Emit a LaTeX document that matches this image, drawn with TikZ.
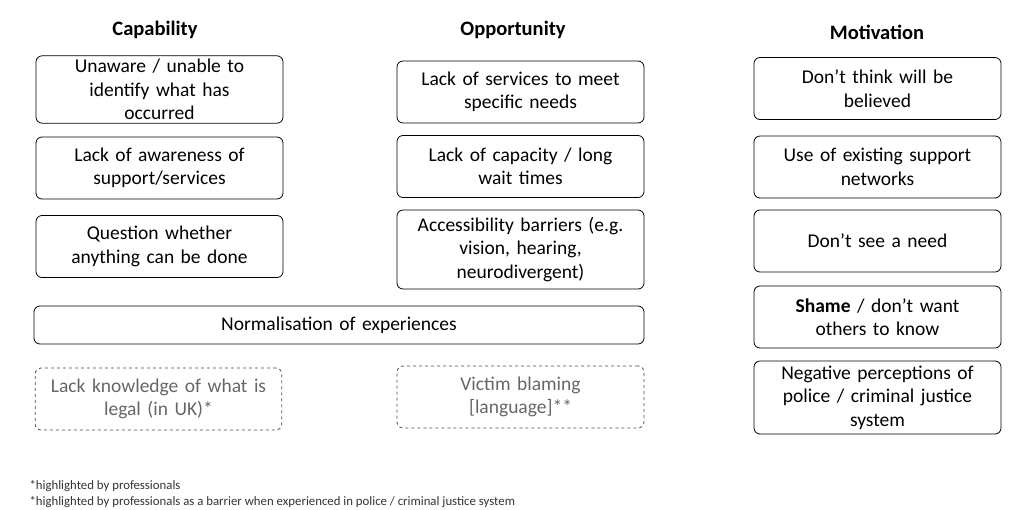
\documentclass[tikz,border=0pt]{standalone}
\usepackage{fontspec}
\setmainfont{Carlito}
\usetikzlibrary{positioning}
\tikzset{
  barrier/.style={draw, rounded corners=6pt, minimum width=247pt, minimum height=62pt, align=center, text width=240pt, font=\fontsize{19.5}{23.5}\selectfont, line width=0.8pt},
  hint/.style={barrier, dashed, draw=black!70, text=black!60},
  head/.style={font=\fontsize{20.5}{24}\selectfont\bfseries},
  note/.style={anchor=west, font=\fontsize{12.8}{14}\selectfont, text=black!80}
}
\begin{document}
\begin{tikzpicture}[x=1pt,y=-1pt]
  \useasboundingbox (0,0) rectangle (1024,509);
  % headers
  \node[head] (cap) at (155,30) {Capability};
  \node[head] (opp) at (513,30) {Opportunity};
  \node[head] (mot) at (877,32) {Motivation};
  % capability
  \node[barrier] (c1) at (159.5,89.5) {Unaware / unable to\\ identify what has\\ occurred};
  \node[barrier] (c2) at (159.5,168) {Lack of awareness of\\ support/services};
  \node[barrier] (c3) at (159.5,246.5) {Question whether\\ anything can be done};
  % opportunity
  \node[barrier] (o1) at (520.5,92) {Lack of services to meet\\ specific needs};
  \node[barrier] (o2) at (520.5,166.5) {Lack of capacity / long\\ wait times};
  \node[barrier, minimum height=79pt] (o3) at (520.5,249.5) {Accessibility barriers (e.g.\\ vision, hearing,\\ neurodivergent)};
  \node[barrier, minimum width=610pt, minimum height=38pt, text width=600pt] (norm) at (339,325) {Normalisation of experiences};
  \node[hint, minimum width=245pt] (c4) at (158.5,399) {Lack knowledge of what is\\ legal (in UK)*};
  \node[hint] (o4) at (520.5,397) {Victim blaming\\ {[language]**}};
  % motivation
  \node[barrier] (m1) at (877.5,88.5) {Don’t think will be\\ believed};
  \node[barrier] (m2) at (877.5,167) {Use of existing support\\ networks};
  \node[barrier] (m3) at (877.5,241) {Don’t see a need};
  \node[barrier] (m4) at (877.5,317) {\textbf{Shame} / don’t want\\ others to know};
  \node[barrier, minimum height=73pt] (m5) at (877.5,397.5) {Negative perceptions of\\ police / criminal justice\\ system};
  % footnotes
  \node[note] (n1) at (26,486) {*highlighted by professionals};
  \node[note] (n2) at (26,502) {*highlighted by professionals as a barrier when experienced in police / criminal justice system};
\end{tikzpicture}
\end{document}
